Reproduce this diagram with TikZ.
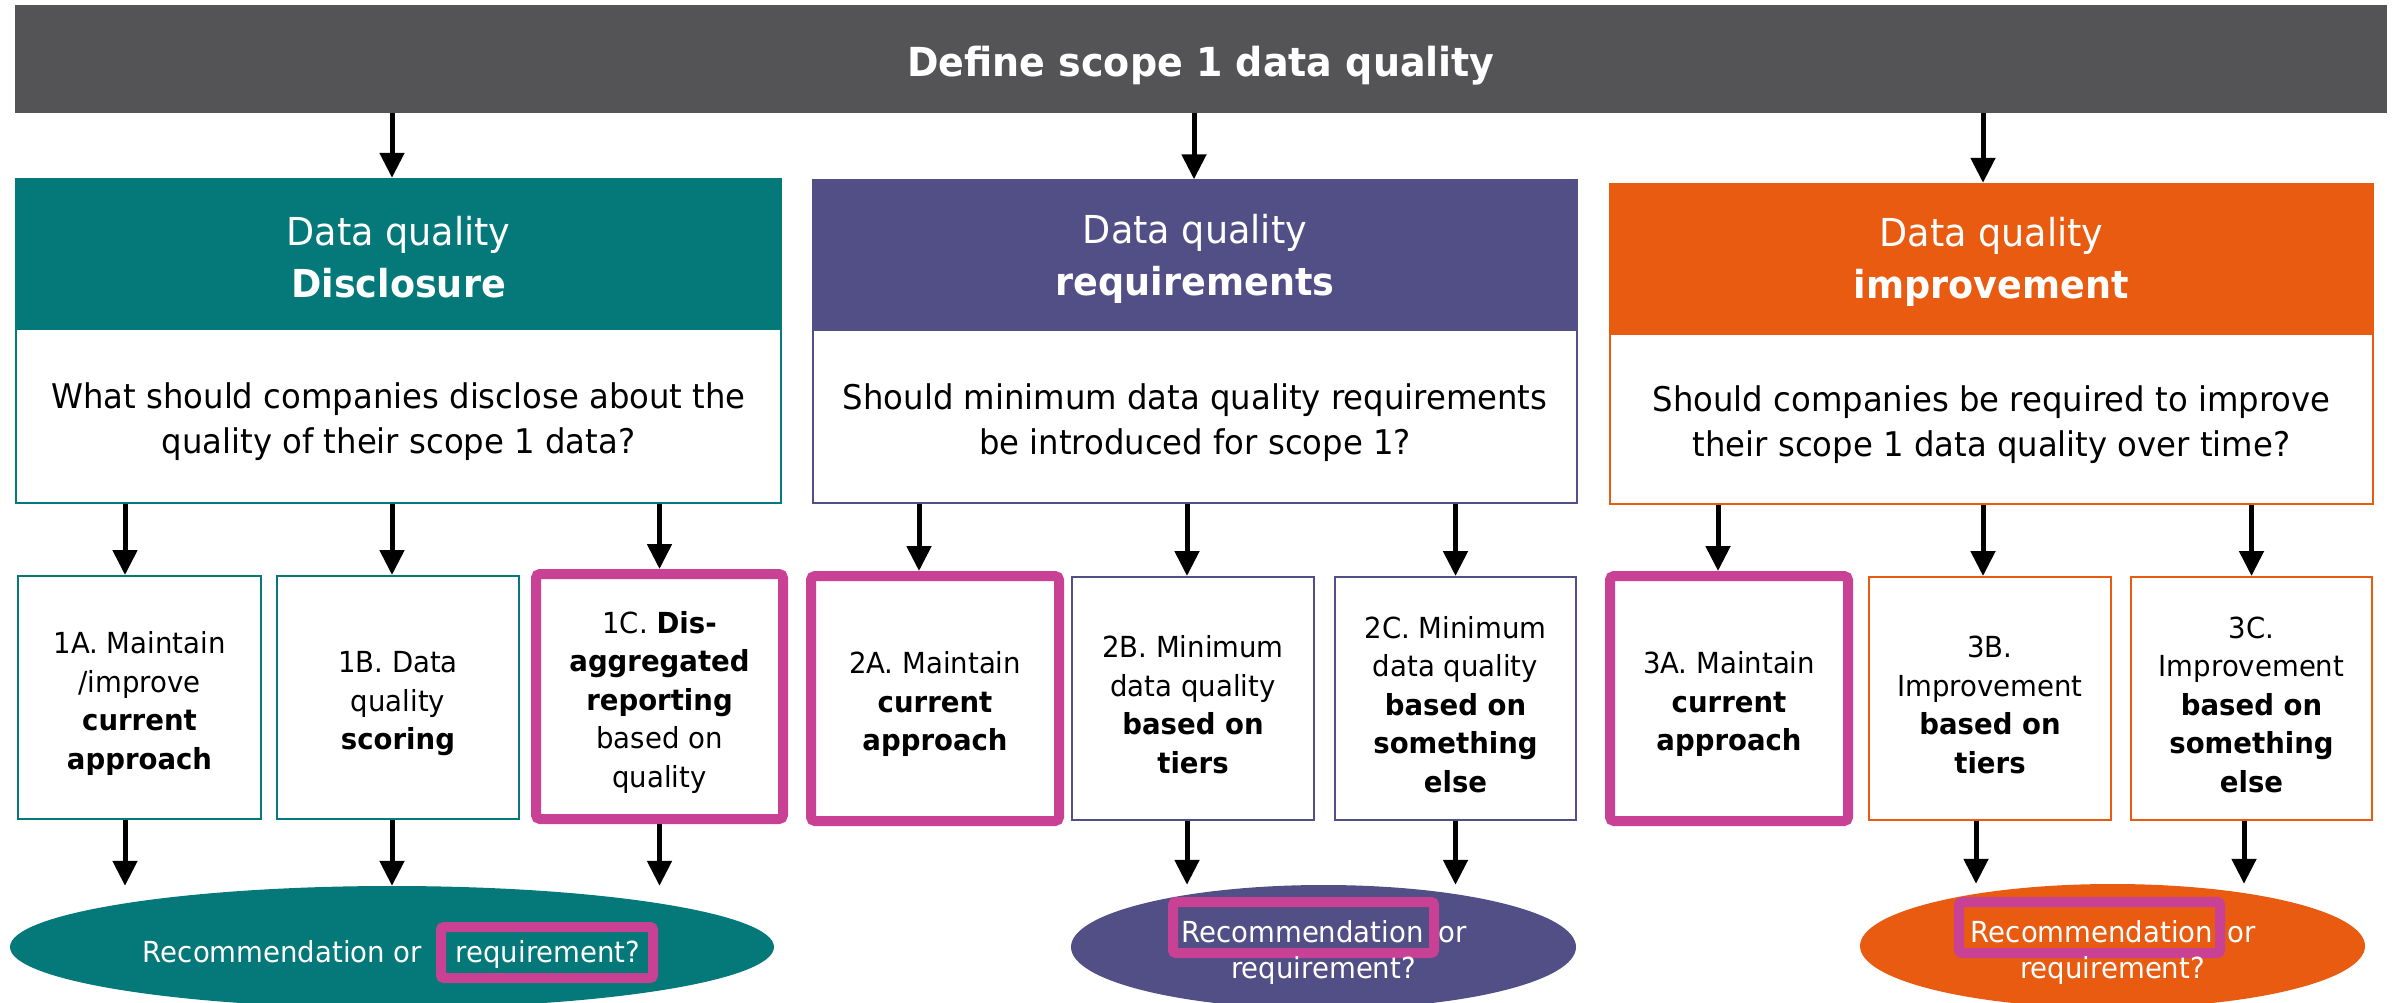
\documentclass[tikz,border=0pt]{standalone}
\usepackage{fontspec}
\setmainfont{DejaVu Sans}[FakeStretch=0.95]
\usetikzlibrary{arrows.meta,shapes.geometric}

\definecolor{bargray}{RGB}{84,84,86}
\definecolor{dqteal}{RGB}{5,121,122}
\definecolor{dqpurple}{RGB}{82,79,135}
\definecolor{dqorange}{RGB}{232,91,16}
\definecolor{hlmagenta}{RGB}{200,65,148}

% invisible struts that give the first line of a block some extra height
\newcommand{\hdlift}{\rule{0pt}{38pt}}
\newcommand{\qlift}{\rule{0pt}{38pt}}
\newcommand{\optlift}{\rule{0pt}{34pt}}

\begin{document}
\begin{tikzpicture}[x=1pt,y=-1pt,
  arr/.style={line width=5pt,-{Triangle[width=24pt,length=25pt]}},
  titlebar/.style={fill=bargray,text=white,font=\fontsize{40}{48}\selectfont\bfseries,
    minimum width=2372pt,minimum height=108pt,inner sep=0pt,text height=35pt,text depth=0pt},
  header/.style={fill=#1,text=white,font=\fontsize{38.5}{52}\selectfont,align=center,
    minimum height=150pt,inner sep=0pt},
  question/.style={draw=#1,line width=2pt,fill=white,font=\fontsize{34}{45}\selectfont,
    align=center,inner sep=0pt},
  option/.style={draw=#1,line width=2pt,fill=white,font=\fontsize{29}{38.5}\selectfont,
    align=center,inner sep=0pt,minimum width=242pt,minimum height=243pt},
  picked/.style={option=hlmagenta,line width=10pt,rounded corners=4pt,minimum height=245pt},
  outcome/.style={ellipse,fill=#1,inner sep=0pt},
  otext/.style={text=white,font=\fontsize{29}{36}\selectfont,inner sep=0pt},
  hlbox/.style={draw=hlmagenta,line width=10pt,rounded corners=3pt,inner sep=0pt,
    minimum height=51pt},
]
\useasboundingbox (0,0) rectangle (2394,1003);
\clip (0,0) rectangle (2394,1003);

% title bar
\node[titlebar] (bar) at (1201,59) {Define scope 1 data quality};

% column headers
\node[header=dqteal,minimum width=767pt] (h1) at (398.5,253) {\hdlift Data quality\\\textbf{Disclosure}};
\node[header=dqpurple,minimum width=766pt] (h2) at (1195,254.5) {\hdlift Data quality\\\textbf{requirements}};
\node[header=dqorange,minimum width=765pt] (h3) at (1991.5,258) {\hdlift Data quality\\\textbf{improvement}};

% questions
\node[question=dqteal,minimum width=765pt,minimum height=174pt] (q1) at (398.5,416)
  {\qlift What should companies disclose about the\\quality of their scope 1 data?};
\node[question=dqpurple,minimum width=764pt,minimum height=173pt] (q2) at (1195,416.5)
  {\qlift Should minimum data quality requirements\\be introduced for scope 1?};
\node[question=dqorange,minimum width=763pt,minimum height=170pt] (q3) at (1991.5,419)
  {\qlift Should companies be required to improve\\their scope 1 data quality over time?};

% options
\node[option=dqteal,minimum width=243pt] (o1a) at (139.5,697.5)
  {\optlift 1A. Maintain\\/improve\\\textbf{current}\\\textbf{approach}};
\node[option=dqteal] (o1b) at (398,697.5)
  {\optlift 1B. Data\\quality\\\textbf{scoring}};
\node[picked,minimum width=247pt] (o1c) at (659.5,696.5)
  {\optlift 1C. \textbf{Dis-}\\\textbf{aggregated}\\\textbf{reporting}\\based on\\quality};

\node[picked,minimum width=248pt] (o2a) at (935,698.5)
  {\optlift 2A. Maintain\\\textbf{current}\\\textbf{approach}};
\node[option=dqpurple] (o2b) at (1193,698.5)
  {\optlift 2B. Minimum\\data quality\\\textbf{based on}\\\textbf{tiers}};
\node[option=dqpurple,minimum width=241pt] (o2c) at (1455.5,698.5)
  {\optlift 2C. Minimum\\data quality\\\textbf{based on}\\\textbf{something}\\\textbf{else}};

\node[picked,minimum width=238pt] (o3a) at (1729,698.5)
  {\optlift 3A. Maintain\\\textbf{current}\\\textbf{approach}};
\node[option=dqorange] (o3b) at (1990,698.5)
  {\optlift 3B.\\Improvement\\\textbf{based on}\\\textbf{tiers}};
\node[option=dqorange,minimum width=241pt] (o3c) at (2251.5,698.5)
  {\optlift 3C.\\Improvement\\\textbf{based on}\\\textbf{something}\\\textbf{else}};

% outcomes
\node[outcome=dqteal,minimum width=764pt,minimum height=122pt] (e1) at (392,947) {};
\node[outcome=dqpurple,minimum width=505pt,minimum height=124pt] (e2) at (1323.5,947) {};
\node[outcome=dqorange,minimum width=505pt,minimum height=124pt] (e3) at (2112.5,946) {};

\node[hlbox,minimum width=212pt] (k1) at (547,952.5) {};
\node[hlbox,minimum width=261pt] (k2) at (1303.5,927.5) {};
\node[hlbox,minimum width=261pt] (k3) at (2089.5,927.5) {};

\node[otext,anchor=base] (e1a) at (282.5,962) {Recommendation or};
\node[otext,anchor=base] (e1b) at (548,962) {requirement?};

\node[otext,anchor=base] (e2a) at (1302.5,942) {Recommendation};
\node[otext,anchor=base west] (e2b) at (1438,942) {or};
\node[otext,anchor=base] (e2c) at (1323.5,978) {requirement?};

\node[otext,anchor=base] (e3a) at (2092,942) {Recommendation};
\node[otext,anchor=base west] (e3b) at (2227,942) {or};
\node[otext,anchor=base] (e3c) at (2112.5,978) {requirement?};

% title to headers
\draw[arr] ([xshift=-6.5pt]h1.north |- bar.south) -- ([xshift=-6.5pt]h1.north);
\draw[arr] ([xshift=-1pt]h2.north |- bar.south) -- ([xshift=-1pt]h2.north);
\draw[arr] ([xshift=-8.5pt]h3.north |- bar.south) -- ([xshift=-8.5pt]h3.north);

% questions to options
\draw[arr] ([xshift=-14.5pt]o1a.north |- q1.south) -- ([xshift=-14.5pt]o1a.north);
\draw[arr] ([xshift=-6pt]o1b.north |- q1.south) -- ([xshift=-6pt]o1b.north);
\draw[arr] (o1c.north |- q1.south) -- (o1c.north);
\draw[arr] ([xshift=-16pt]o2a.north |- q2.south) -- ([xshift=-16pt]o2a.north);
\draw[arr] ([xshift=-6pt]o2b.north |- q2.south) -- ([xshift=-6pt]o2b.north);
\draw[arr] (o2c.north |- q2.south) -- (o2c.north);
\draw[arr] ([xshift=-11pt]o3a.north |- q3.south) -- ([xshift=-11pt]o3a.north);
\draw[arr] ([xshift=-7pt]o3b.north |- q3.south) -- ([xshift=-7pt]o3b.north);
\draw[arr] (o3c.north |- q3.south) -- (o3c.north);

% options to outcomes
\draw[arr] ([xshift=-14.5pt]o1a.south) -- ([xshift=-14.5pt]o1a.south |- e1.north);
\draw[arr] ([xshift=-6pt]o1b.south) -- ([xshift=-6pt]o1b.south |- e1.north);
\draw[arr] (o1c.south) -- (o1c.south |- e1.north);
\draw[arr] ([xshift=-6pt]o2b.south) -- ([xshift=-6pt]o2b.south |- e2.north);
\draw[arr] (o2c.south) -- (o2c.south |- e2.north);
\draw[arr] ([xshift=-14pt]o3b.south) -- ([xshift=-14pt]o3b.south |- e3.north);
\draw[arr] ([xshift=-7.5pt]o3c.south) -- ([xshift=-7.5pt]o3c.south |- e3.north);
\end{tikzpicture}
\end{document}
